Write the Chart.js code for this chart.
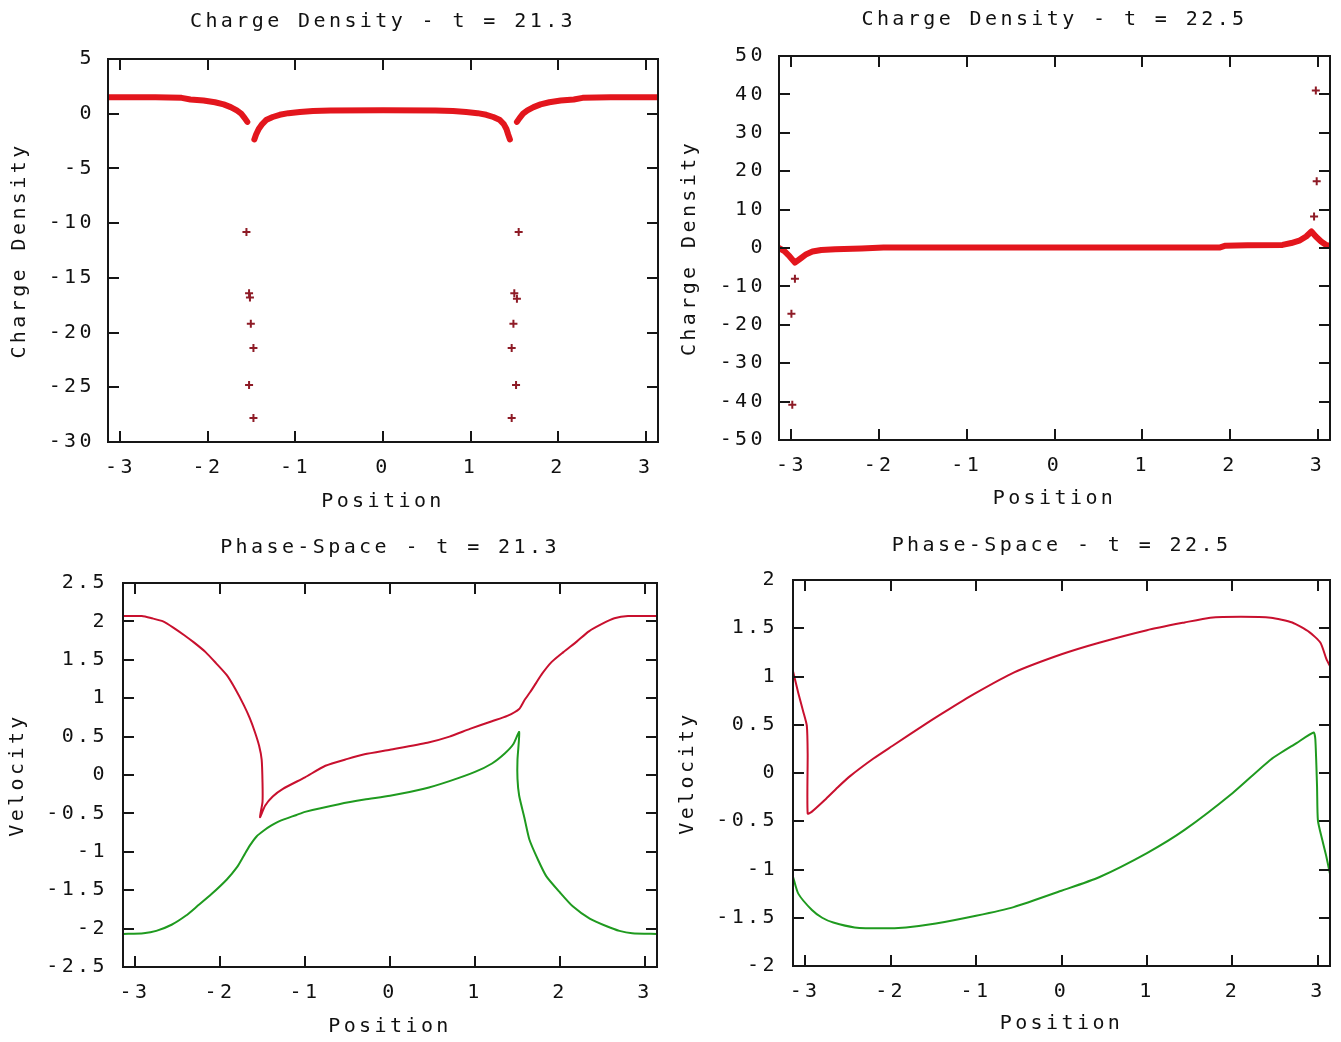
<!DOCTYPE html>
<html><head><meta charset="utf-8">
<script src="https://cdn.jsdelivr.net/npm/chart.js@4.4.1/dist/chart.umd.min.js"></script>
<style>
html,body{margin:0;padding:0;background:#fff;}
#wrap{position:relative;width:1341px;height:1042px;background:#fff;overflow:hidden;}
canvas{position:absolute;}
</style></head><body>
<div id="wrap">
<canvas id="c1" width="670" height="520" style="left:0px;top:0px"></canvas>
<canvas id="c2" width="671" height="520" style="left:670px;top:0px"></canvas>
<canvas id="c3" width="670" height="522" style="left:0px;top:520px"></canvas>
<canvas id="c4" width="671" height="522" style="left:670px;top:520px"></canvas>
</div>
<script>
// ---------- shared axis ticks ----------
const xTickValues = [-3, -2, -1, 0, 1, 2, 3];
const xTickLabels = ['-3', '-2', '-1', '0', '1', '2', '3'];

// ---------- Panel 1: Charge Density t = 21.3 ----------
const cd1YTicks = [-30, -25, -20, -15, -10, -5, 0, 5];
const cd1YLabels = ['-30', '-25', '-20', '-15', '-10', '-5', '0', '5'];
const cd1BandX = [-3.14, -2.6, -2.3, -2.2, -2.05, -1.92, -1.82, -1.74, -1.67, -1.62, -1.58, -1.55,
  -1.51,
  -1.47, -1.45, -1.42, -1.38, -1.33, -1.26, -1.18, -1.08, -0.95, -0.8, -0.6, 0, 0.6, 0.8, 0.95, 1.08, 1.18, 1.26, 1.33, 1.38, 1.41, 1.43, 1.45,
  1.49,
  1.53, 1.56, 1.6, 1.65, 1.72, 1.8, 1.9, 2.03, 2.18, 2.28, 2.6, 3.14];
const cd1BandY = [1.5, 1.5, 1.45, 1.3, 1.2, 1.05, 0.85, 0.6, 0.3, 0.0, -0.4, -0.75,
  null,
  -2.35, -1.9, -1.4, -0.95, -0.55, -0.3, -0.1, 0.05, 0.15, 0.25, 0.3, 0.32, 0.3, 0.25, 0.15, 0.05, -0.1, -0.3, -0.55, -0.95, -1.4, -1.9, -2.35,
  null,
  -0.75, -0.4, 0.0, 0.3, 0.6, 0.85, 1.05, 1.2, 1.3, 1.45, 1.5, 1.5];
const cd1OutX = [-1.56, -1.53, -1.52, -1.51, -1.48, -1.53, -1.48, 1.55, 1.5, 1.53, 1.49, 1.47, 1.52, 1.47];
const cd1OutY = [-10.8, -16.4, -16.8, -19.2, -21.4, -24.8, -27.8, -10.8, -16.4, -16.9, -19.2, -21.4, -24.8, -27.8];

// ---------- Panel 2: Charge Density t = 22.5 ----------
const cd2YTicks = [-50, -40, -30, -20, -10, 0, 10, 20, 30, 40, 50];
const cd2YLabels = ['-50', '-40', '-30', '-20', '-10', '0', '10', '20', '30', '40', '50'];
const cd2BandX = [-3.14, -3.08, -3.02, -2.96, -2.9, -2.83, -2.76, -2.66, -2.5, -2.2, -1.95, -1.0, 0, 1.0, 1.88, 1.95, 2.2, 2.6, 2.7, 2.8, 2.87, 2.93, 2.98, 3.04, 3.09, 3.14];
const cd2BandY = [0, -0.8, -2.2, -3.8, -2.8, -1.6, -0.9, -0.5, -0.3, -0.1, 0.1, 0.1, 0.1, 0.1, 0.1, 0.6, 0.7, 0.8, 1.3, 2.0, 3.0, 4.3, 3.0, 1.7, 0.9, 0.5];
const cd2OutX = [-2.96, -3.0, -2.99, 2.98, 2.99, 2.96];
const cd2OutY = [-8.0, -17.1, -40.8, 41.0, 17.4, 8.2];

// ---------- Panel 3: Phase-Space t = 21.3 ----------
const ps1YTicks = [-2.5, -2, -1.5, -1, -0.5, 0, 0.5, 1, 1.5, 2, 2.5];
const ps1YLabels = ['-2.5', '-2', '-1.5', '-1', '-0.5', '0', '0.5', '1', '1.5', '2', '2.5'];
const ps1RedX = [-3.14, -2.92, -2.8, -2.67, -2.55, -2.42, -2.3, -2.17, -2.05, -1.92, -1.82, -1.72, -1.65, -1.59, -1.54, -1.51, -1.5, -1.5, -1.53, -1.47, -1.38, -1.26, -1.0, -0.76, -0.5, -0.3, 0, 0.44, 0.7, 0.94, 1.2, 1.38, 1.52, 1.58, 1.65, 1.72, 1.79, 1.9, 2.04, 2.2, 2.34, 2.5, 2.64, 2.8, 3.14];
const ps1RedY = [2.07, 2.07, 2.04, 2.0, 1.92, 1.82, 1.72, 1.6, 1.46, 1.3, 1.12, 0.91, 0.74, 0.56, 0.38, 0.2, -0.1, -0.35, -0.55, -0.4, -0.28, -0.18, -0.03, 0.12, 0.21, 0.27, 0.33, 0.42, 0.5, 0.6, 0.7, 0.77, 0.86, 0.97, 1.08, 1.2, 1.32, 1.47, 1.6, 1.74, 1.87, 1.97, 2.04, 2.07, 2.07];
const ps1GreenX = [-3.14, -2.9, -2.75, -2.57, -2.4, -2.27, -2.1, -1.92, -1.8, -1.72, -1.65, -1.57, -1.48, -1.4, -1.3, -1.1, -1.0, -0.6, -0.3, 0, 0.4, 0.7, 1.0, 1.2, 1.35, 1.45, 1.52, 1.5, 1.5, 1.52, 1.58, 1.64, 1.74, 1.84, 2.0, 2.15, 2.35, 2.55, 2.7, 2.85, 3.14];
const ps1GreenY = [-2.07, -2.06, -2.03, -1.95, -1.83, -1.71, -1.55, -1.36, -1.2, -1.05, -0.92, -0.8, -0.72, -0.66, -0.6, -0.52, -0.48, -0.38, -0.32, -0.27, -0.18, -0.08, 0.04, 0.15, 0.28, 0.4, 0.56, 0.2, -0.05, -0.27, -0.55, -0.84, -1.1, -1.32, -1.53, -1.71, -1.87, -1.97, -2.03, -2.06, -2.07];

// ---------- Panel 4: Phase-Space t = 22.5 ----------
const ps2YTicks = [-2, -1.5, -1, -0.5, 0, 0.5, 1, 1.5, 2];
const ps2YLabels = ['-2', '-1.5', '-1', '-0.5', '0', '0.5', '1', '1.5', '2'];
const ps2RedX = [-3.14, -3.08, -3.02, -2.98, -2.97, -2.97, -2.92, -2.77, -2.62, -2.47, -2.2, -1.98, -1.57, -1.3, -1.0, -0.56, 0, 0.44, 1.0, 1.44, 1.74, 2.1, 2.45, 2.7, 2.9, 3.03, 3.1, 3.14];
const ps2RedY = [1.05, 0.83, 0.63, 0.49, 0.2, -0.42, -0.4, -0.28, -0.15, -0.03, 0.15, 0.28, 0.52, 0.67, 0.83, 1.04, 1.23, 1.35, 1.48, 1.56, 1.61, 1.62, 1.61, 1.56, 1.46, 1.35, 1.18, 1.11];
const ps2GreenX = [-3.14, -3.08, -2.92, -2.8, -2.67, -2.42, -2.1, -1.82, -1.47, -1.0, -0.56, 0, 0.44, 1.0, 1.44, 2.0, 2.45, 2.75, 2.95, 2.97, 2.99, 3.0, 3.05, 3.1, 3.14];
const ps2GreenY = [-1.08, -1.25, -1.42, -1.5, -1.55, -1.6, -1.61, -1.6, -1.56, -1.48, -1.39, -1.22, -1.08, -0.83, -0.59, -0.21, 0.14, 0.31, 0.42, 0.35, -0.14, -0.49, -0.69, -0.87, -1.04];

// ---------- styling ----------
const FONT = 'DejaVu Sans Mono';
const FS = 20;
const INK = '#111111';
const BAND_RED = '#e3161d';
const OUT_RED = '#8e1b26';
const LINE_RED = '#c8102e';
const LINE_GREEN = '#1f9a1f';

function zipXY(xs, ys) { return xs.map((x, i) => ({ x: x, y: ys[i] })); }

const spacingPlugin = {
  id: 'gnuSpacing',
  beforeLayout(chart) { chart.ctx.letterSpacing = '3.4px'; },
  beforeDraw(chart) { chart.ctx.letterSpacing = '3.4px'; }
};

const framePlugin = {
  id: 'gnuFrame',
  afterDraw(chart) {
    const ctx = chart.ctx, a = chart.chartArea, xs = chart.scales.x, ys = chart.scales.y;
    const L = 11;
    ctx.save();
    ctx.strokeStyle = '#161616';
    ctx.lineWidth = 2;
    ctx.strokeRect(a.left, a.top, a.right - a.left, a.bottom - a.top);
    ctx.beginPath();
    xs.ticks.forEach(t => {
      const px = Math.round(xs.getPixelForValue(t.value));
      ctx.moveTo(px, a.bottom); ctx.lineTo(px, a.bottom - L);
      ctx.moveTo(px, a.top); ctx.lineTo(px, a.top + L);
    });
    ys.ticks.forEach(t => {
      const py = Math.round(ys.getPixelForValue(t.value));
      ctx.moveTo(a.left, py); ctx.lineTo(a.left + L, py);
      ctx.moveTo(a.right, py); ctx.lineTo(a.right - L, py);
    });
    ctx.stroke();
    ctx.restore();
  }
};

function bandSet(data) {
  return { data: data, showLine: true, borderColor: BAND_RED, backgroundColor: BAND_RED, borderWidth: 6,
    pointRadius: 0, pointHoverRadius: 0, tension: 0, spanGaps: false, borderJoinStyle: 'round', borderCapStyle: 'round' };
}
function outlierSet(data) {
  return { data: data, showLine: false, pointStyle: 'cross', pointRadius: 4, pointHoverRadius: 4,
    borderColor: OUT_RED, backgroundColor: OUT_RED, borderWidth: 2 };
}
function lineSet(data, color) {
  return { data: data, showLine: true, borderColor: color, backgroundColor: color, borderWidth: 2,
    pointRadius: 0, pointHoverRadius: 0, tension: 0.2, borderJoinStyle: 'round' };
}

function buildChart(id, o) {
  const font = { family: FONT, size: FS, weight: 'normal' };
  return new Chart(document.getElementById(id), {
    type: 'scatter',
    data: { datasets: o.datasets },
    options: {
      responsive: false, animation: false, devicePixelRatio: 1,
      layout: { padding: { left: 0, right: o.padRight, top: 0, bottom: 0 } },
      plugins: {
        legend: { display: false }, tooltip: { enabled: false },
        title: { display: true, text: o.title, fullSize: false, color: INK, font: font, padding: o.titlePad }
      },
      scales: {
        x: {
          type: 'linear', min: -Math.PI, max: Math.PI,
          grid: { display: false, drawTicks: false }, border: { display: false },
          ticks: { color: INK, font: font, padding: 14, maxRotation: 0, autoSkip: false,
            callback: (v, i) => xTickLabels[i] },
          afterBuildTicks: s => { s.ticks = xTickValues.map(v => ({ value: v })); },
          afterFit: s => { s.height = o.xH; s.paddingLeft = 0; s.paddingRight = 0; },
          title: { display: true, text: 'Position', color: INK, font: font, padding: { top: 0, bottom: o.xTitlePadB } }
        },
        y: {
          type: 'linear', min: o.yTicks[0], max: o.yTicks[o.yTicks.length - 1],
          grid: { display: false, drawTicks: false }, border: { display: false },
          ticks: { color: INK, font: font, padding: o.yTickPad, autoSkip: false,
            callback: (v, i) => o.yLabels[i] },
          afterBuildTicks: s => { s.ticks = o.yTicks.map(v => ({ value: v })); },
          afterFit: s => { s.width = o.yW; s.paddingTop = 0; s.paddingBottom = 0; },
          title: { display: true, text: o.yTitle, color: INK, font: font, padding: { top: o.yTitlePadT, bottom: 0 } }
        }
      }
    },
    plugins: [spacingPlugin, framePlugin]
  });
}

buildChart('c1', {
  title: 'Charge Density - t = 21.3', yTitle: 'Charge Density',
  yTicks: cd1YTicks, yLabels: cd1YLabels,
  padRight: 12, yW: 108, xH: 78, titlePad: { top: 10, bottom: 25 },
  yTitlePadT: 8, yTickPad: 13, xTitlePadB: 6,
  datasets: [outlierSet(zipXY(cd1OutX, cd1OutY)), bandSet(zipXY(cd1BandX, cd1BandY))]
});
buildChart('c2', {
  title: 'Charge Density - t = 22.5', yTitle: 'Charge Density',
  yTicks: cd2YTicks, yLabels: cd2YLabels,
  padRight: 11, yW: 109, xH: 80, titlePad: { top: 8, bottom: 24 },
  yTitlePadT: 8, yTickPad: 13, xTitlePadB: 9,
  datasets: [outlierSet(zipXY(cd2OutX, cd2OutY)), bandSet(zipXY(cd2BandX, cd2BandY))]
});
buildChart('c3', {
  title: 'Phase-Space - t = 21.3', yTitle: 'Velocity',
  yTicks: ps1YTicks, yLabels: ps1YLabels,
  padRight: 13, yW: 123, xH: 75, titlePad: { top: 16, bottom: 23 },
  yTitlePadT: 6, yTickPad: 15, xTitlePadB: 3,
  datasets: [lineSet(zipXY(ps1RedX, ps1RedY), LINE_RED), lineSet(zipXY(ps1GreenX, ps1GreenY), LINE_GREEN)]
});
buildChart('c4', {
  title: 'Phase-Space - t = 22.5', yTitle: 'Velocity',
  yTicks: ps2YTicks, yLabels: ps2YLabels,
  padRight: 11, yW: 123, xH: 76, titlePad: { top: 14, bottom: 22 },
  yTitlePadT: 6, yTickPad: 15, xTitlePadB: 6,
  datasets: [lineSet(zipXY(ps2RedX, ps2RedY), LINE_RED), lineSet(zipXY(ps2GreenX, ps2GreenY), LINE_GREEN)]
});
</script>
</body></html>
